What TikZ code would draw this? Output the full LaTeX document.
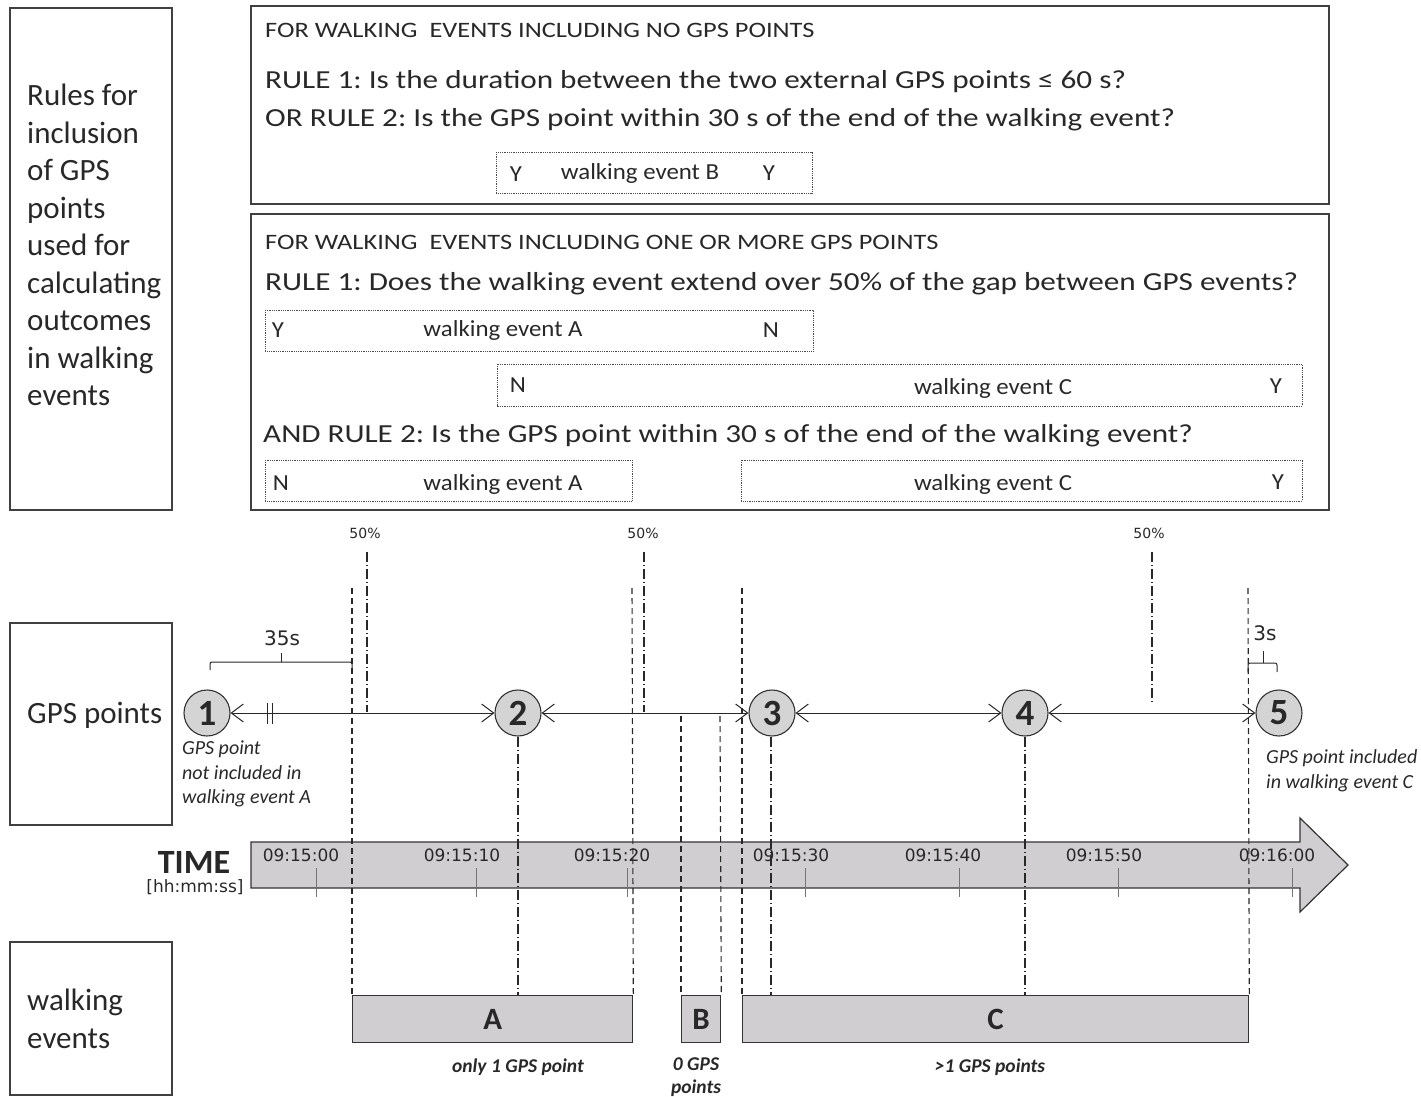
\documentclass[tikz,border=0pt]{standalone}
\usepackage{fontspec}
\setmainfont{Carlito}
\newfontfamily\dvs{DejaVu Sans}
\newfontfamily\widefont{Carlito}[FakeStretch=1.2]
\newfontfamily\midfont{Carlito}[FakeStretch=1.08]
\usetikzlibrary{arrows.meta}
\definecolor{boxgray}{RGB}{208,206,208}
\definecolor{circgray}{RGB}{212,212,212}
\definecolor{inkc}{RGB}{40,40,40}
\newcommand{\fs}[2]{\fontsize{#1}{#2}\selectfont}
\frenchspacing
\begin{document}
\begin{tikzpicture}[x=1pt,y=-1pt,
  every node/.style={inner sep=0pt, text=inkc},
  outer/.style={draw=black!75, line width=1.4pt},
  dotbox/.style={draw=black!70, line width=0.8pt, densely dotted},
  rtxt/.style={anchor=west, font=\widefont\fs{26}{31}},
  htxt/.style={anchor=west, font=\widefont\fs{22}{26}},
  itxt/.style={font=\midfont\fs{23}{28}},
  bnd/.style={draw=inkc, line width=1.1pt, dash pattern=on 6pt off 4pt},
  half/.style={draw=inkc, line width=1.1pt, dash pattern=on 10pt off 3pt on 1pt off 3pt},
  gps/.style={circle, draw=black!80, line width=1.1pt, fill=circgray, minimum size=46pt, font=\bfseries\fs{37}{40}},
  link/.style={draw=inkc, line width=1pt, {Straight Barb[length=12pt,width=18pt]}-{Straight Barb[length=12pt,width=18pt]}},
  wbox/.style={draw=black!80, line width=1.3pt, fill=boxgray, anchor=north west, font=\bfseries\fs{31}{34}},
  tlab/.style={font=\dvs\fs{17}{20}},
  note/.style={font=\itshape\fs{20}{24.5}, anchor=west, align=left},
  bnote/.style={font=\bfseries\itshape\fs{19.5}{23}, align=center},
  tick/.style={draw=black!55, line width=0.9pt}
]
\useasboundingbox (0,0) rectangle (1421,1097);

% ---- left labels
\draw[outer] (10,8) rectangle (172,510);
\node[anchor=west, align=left, font=\fs{31}{37.5}] (rules) at (27,245)
  {Rules for\\inclusion\\of GPS\\points\\used for\\calculating\\outcomes\\in walking\\events};
\draw[outer] (10,623) rectangle (172,825);
\node[anchor=west, font=\fs{31}{36}] (gpslab) at (27,715) {GPS points};
\draw[outer] (10,942) rectangle (172,1095);
\node[anchor=west, align=left, font=\fs{31}{38}] (welab) at (27,1019) {walking\\events};

% ---- rule box 1
\draw[outer] (251,6) rectangle (1329,204);
\node[htxt] (h1) at (265,30) {FOR WALKING\ \ EVENTS INCLUDING NO GPS POINTS};
\node[rtxt] (r11) at (265,82) {RULE 1: Is the duration between the two external GPS points ≤ 60 s?};
\node[rtxt] (r12) at (265,120) {OR RULE 2: Is the GPS point within 30 s of the end of the walking event?};
\draw[dotbox] (496,152) rectangle (812,193);
\node[itxt] (bY1) at (516,174) {Y};
\node[itxt] (bT) at (640,173) {walking event B};
\node[itxt] (bY2) at (769,173) {Y};

% ---- rule box 2
\draw[outer] (251,214) rectangle (1329,510);
\node[htxt] (h2) at (265,242) {FOR WALKING\ \ EVENTS INCLUDING ONE OR MORE GPS POINTS};
\node[rtxt] (r21) at (265,284) {RULE 1: Does the walking event extend over 50\% of the gap between GPS events?};
\draw[dotbox] (265,310) rectangle (813,351);
\node[itxt] (a1Y) at (278,330) {Y};
\node[itxt] (a1T) at (503,330) {walking event A};
\node[itxt] (a1N) at (771,330) {N};
\draw[dotbox] (497,364) rectangle (1302,406);
\node[itxt] (c1N) at (518,385) {N};
\node[itxt] (c1T) at (993,388) {walking event C};
\node[itxt] (c1Y) at (1276,386) {Y};
\node[rtxt] (r22) at (263,436) {AND RULE 2: Is the GPS point within 30 s of the end of the walking event?};
\draw[dotbox] (265,460) rectangle (632,501);
\node[itxt] (a2N) at (281,483) {N};
\node[itxt] (a2T) at (503,484) {walking event A};
\draw[dotbox] (741,460) rectangle (1302,501);
\node[itxt] (c2T) at (993,484) {walking event C};
\node[itxt] (c2Y) at (1278,482) {Y};

% ---- time arrow
\draw[draw=black!80, line width=1.2pt, fill=boxgray] (251,842) -- (1300,842) -- (1300,818) -- (1348,865) -- (1300,912) -- (1300,888) -- (251,888) -- cycle;
\node[font=\bfseries\fs{34}{38}] (time) at (194,862) {TIME};
\node[tlab] (unit) at (195,887) {[hh:mm:ss]};
\foreach \lx/\tx/\t in {301/316/09:15:00, 462/476/09:15:10, 612/627/09:15:20, 791/805/09:15:30, 943/959/09:15:40, 1104/1118/09:15:50, 1277/1292/09:16:00}{
  \node[tlab] (t\tx) at (\lx,855) {\t};
  \draw[tick] (\tx,868) -- (\tx,897);
}

% ---- walking event boxes
\node[wbox, minimum width=280pt, minimum height=47pt] (A) at (352,995) {A};
\node[wbox, minimum width=39pt, minimum height=47pt] (B) at (681,995) {B};
\node[wbox, minimum width=506pt, minimum height=47pt] (C) at (742,995) {C};
\node[bnote] (nA) at (518,1067) {only 1 GPS point};
\node[bnote] (nB) at (696,1077) {0 GPS\\points};
\node[bnote] (nC) at (990,1067) {>1 GPS points};

% ---- boundary lines
\coordinate (bA1) at (352,588);
\coordinate (bA2) at (632,588);
\coordinate (bC1) at (742,588);
\coordinate (bC2) at (1248,588);
\coordinate (bB1) at (681,716);
\coordinate (bB2) at (720,716);
\draw[bnd] (bA1) -- (A.north west);
\draw[bnd] (bA2) -- (A.north east);
\draw[bnd] (bC1) -- (C.north west);
\draw[bnd] (bC2) -- (C.north east);
\draw[bnd] (bB1) -- (B.north west);
\draw[bnd] (bB2) -- (B.north east);

% ---- 50% markers
\node[font=\dvs\fs{14}{16}] (p1) at (365,533) {50\%};
\node[font=\dvs\fs{14}{16}] (p2) at (643,533) {50\%};
\node[font=\dvs\fs{14}{16}] (p3) at (1149,533) {50\%};
\coordinate (m1t) at (367,552); \coordinate (m1b) at (367,712);
\coordinate (m2t) at (644,552); \coordinate (m2b) at (644,712);
\coordinate (m3t) at (1152,552); \coordinate (m3b) at (1152,705);
\draw[half] (m1t) -- (m1b);
\draw[half] (m2t) -- (m2b);
\draw[half] (m3t) -- (m3b);

% ---- GPS points
\node[gps] (g1) at (207,713) {1};
\node[gps] (g2) at (518,713) {2};
\node[gps] (g3) at (772,713) {3};
\node[gps] (g4) at (1025,713) {4};
\node[gps] (g5) at (1279,713) {5};
\draw[link] (g1) -- (g2);
\draw[link] (g2) -- (g3);
\draw[link] (g3) -- (g4);
\draw[link] (g4) -- (g5);
\draw[draw=inkc, line width=1pt] (267,703) -- (267,724) (272,703) -- (272,724);

\coordinate (g3d) at (771,737);
\draw[half] (g2.south) -- (g2.south |- A.north);
\draw[half] (g3d) -- (g3d |- C.north);
\draw[half] (g4.south) -- (g4.south |- C.north);

% ---- braces
\coordinate (br1a) at (210,670); \coordinate (br1b) at (352,670);
\draw[draw=inkc, line width=1pt, rounded corners=2pt] (br1a) -- (210,662) -- (352,662) -- (br1b);
\draw[draw=inkc, line width=1pt] (281,662) -- (281,653);
\node[font=\dvs\fs{20}{24}] (l35) at (282,638) {35s};
\coordinate (br2a) at (1248,672); \coordinate (br2b) at (1277,672);
\draw[draw=inkc, line width=1pt, rounded corners=2pt] (br2a) -- (1248,663) -- (1277,663) -- (br2b);
\draw[draw=inkc, line width=1pt] (1263,663) -- (1263,651);
\node[font=\dvs\fs{20}{24}] (l3) at (1265,633) {3s};

% ---- notes
\node[note] (n1) at (182,774) {GPS point\\not included in\\walking event A};
\node[note] (n5) at (1266,771) {GPS point included\\in walking event C};
\end{tikzpicture}
\end{document}
